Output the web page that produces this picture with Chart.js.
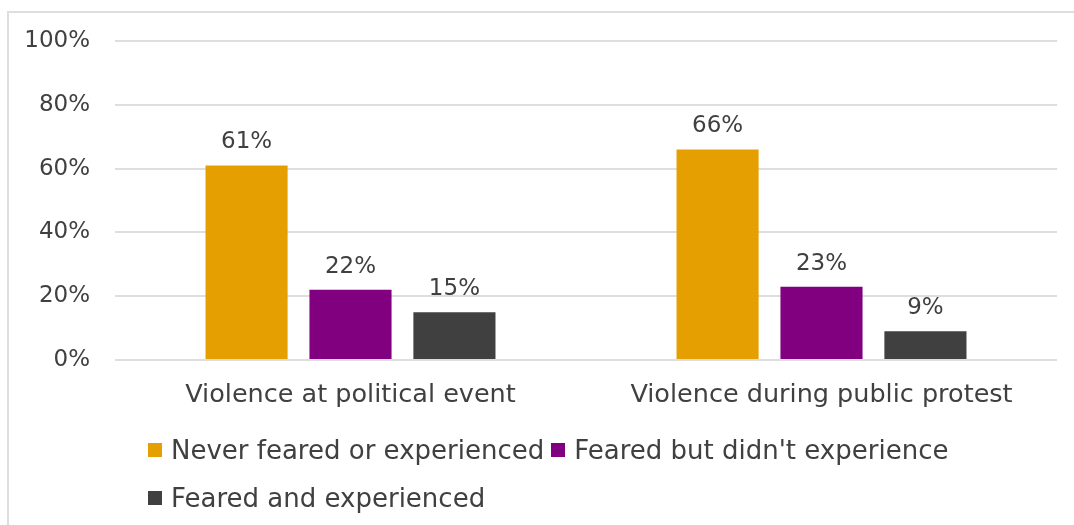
<!DOCTYPE html>
<html>
<head>
<meta charset="utf-8">
<script src="https://cdn.jsdelivr.net/npm/chart.js@4/dist/chart.umd.min.js"></script>
<style>
  html, body { margin: 0; padding: 0; background: #ffffff; overflow: hidden; }
  #wrap { position: relative; width: 1074px; height: 525px; }
  #frame { position: absolute; left: 7px; top: 11px; width: 1100px; height: 540px; border: 2px solid #dedede; box-sizing: border-box; }
  canvas { position: absolute; left: 0; top: 0; }
  #legend { position: absolute; left: 148px; top: 0; font-family: "DejaVu Sans", sans-serif; font-size: 26px; color: #404040; }
  .row { position: absolute; left: 0; height: 30px; line-height: 30px; display: flex; align-items: center; white-space: nowrap; }
  .item { display: flex; align-items: center; margin-right: 7px; }
  .box { width: 14px; height: 14px; margin-right: 9px; flex: none; }
</style>
</head>
<body>
<div id="wrap">
  <div id="frame"></div>
  <canvas id="c" width="1074" height="525"></canvas>
  <div id="legend"></div>
</div>
<script>
const categories = ["Violence at political event", "Violence during public protest"];
const seriesNames = ["Never feared or experienced", "Feared but didn't experience", "Feared and experienced"];
const neverFeared = [61, 66];
const fearedNotExperienced = [22, 23];
const fearedAndExperienced = [15, 9];
const yTicks = [0, 20, 40, 60, 80, 100];
const colors = ["#E69F00", "#800080", "#404040"];
const legendRows = [[0, 1], [2]];

const textColor = "#404040";
const fontFamily = "'DejaVu Sans', sans-serif";

const dataLabels = {
  id: 'dataLabels',
  afterDatasetsDraw(chart) {
    const ctx = chart.ctx;
    ctx.save();
    ctx.font = "23px " + fontFamily;
    ctx.fillStyle = textColor;
    ctx.textAlign = 'center';
    ctx.textBaseline = 'alphabetic';
    chart.data.datasets.forEach((ds, di) => {
      const meta = chart.getDatasetMeta(di);
      meta.data.forEach((bar, i) => {
        ctx.fillText(ds.data[i] + '%', bar.x, bar.y - 17);
      });
    });
    ctx.restore();
  }
};

const htmlLegend = {
  id: 'htmlLegend',
  afterUpdate(chart) {
    const el = document.getElementById('legend');
    el.innerHTML = '';
    const rowTops = [435, 482.5];
    legendRows.forEach((row, r) => {
      const rowDiv = document.createElement('div');
      rowDiv.className = 'row';
      rowDiv.style.top = rowTops[r] + 'px';
      row.forEach(idx => {
        const ds = chart.data.datasets[idx];
        const item = document.createElement('div');
        item.className = 'item';
        const box = document.createElement('span');
        box.className = 'box';
        box.style.background = ds.backgroundColor;
        const txt = document.createElement('span');
        txt.textContent = ds.label;
        item.appendChild(box);
        item.appendChild(txt);
        rowDiv.appendChild(item);
      });
      el.appendChild(rowDiv);
    });
  }
};

new Chart(document.getElementById('c'), {
  type: 'bar',
  data: {
    labels: categories,
    datasets: [
      { label: seriesNames[0], data: neverFeared, backgroundColor: colors[0] },
      { label: seriesNames[1], data: fearedNotExperienced, backgroundColor: colors[1] },
      { label: seriesNames[2], data: fearedAndExperienced, backgroundColor: colors[2] }
    ]
  },
  options: {
    responsive: false,
    animation: false,
    devicePixelRatio: 1,
    categoryPercentage: 0.662,
    barPercentage: 0.79,
    layout: { padding: { left: 0, right: 17, top: 41, bottom: 0 } },
    plugins: {
      legend: { display: false },
      tooltip: { enabled: false }
    },
    scales: {
      x: {
        grid: { display: false, drawTicks: false },
        border: { display: false },
        ticks: { color: textColor, font: { family: fontFamily, size: 25.5 }, padding: 20, maxRotation: 0 },
        afterFit(scale) { scale.height = 165; }
      },
      y: {
        min: 0,
        max: 100,
        afterBuildTicks(scale) { scale.ticks = yTicks.map(v => ({ value: v })); },
        grid: { color: '#dedede', lineWidth: 2, drawTicks: false },
        border: { display: false },
        ticks: { color: textColor, font: { family: fontFamily, size: 23 }, padding: 25, callback: v => v + '%' },
        afterFit(scale) { scale.width = 115; }
      }
    }
  },
  plugins: [dataLabels, htmlLegend]
});
</script>
</body>
</html>
